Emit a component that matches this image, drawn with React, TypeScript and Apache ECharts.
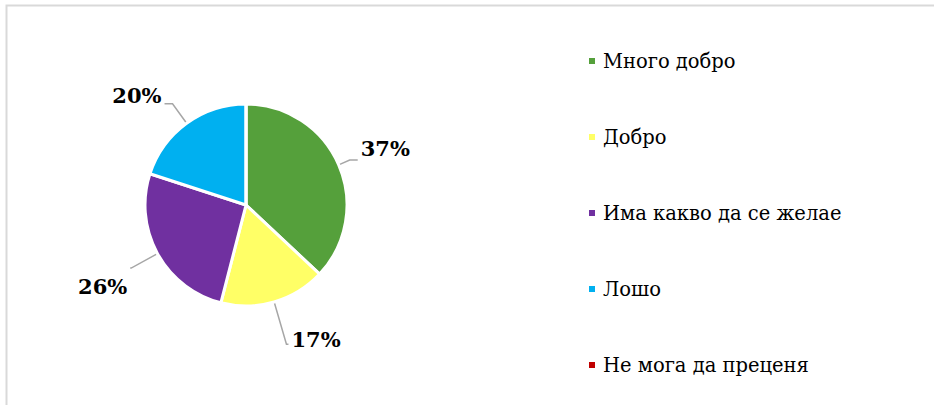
import React, { useEffect, useRef } from "react";
import * as echarts from "echarts";

const categories = ["Много добро", "Добро", "Има какво да се желае", "Лошо", "Не мога да преценя"];
const values = [37, 17, 26, 20, 0];
const colors = ["#55A03B", "#FFFF66", "#7030A0", "#00B0F0", "#C00000"];
// leader line [length, length2] per slice
const lineLengths = [
  [12, 8],
  [44, 2],
  [30, 1],
  [24, 8],
  [10, 10],
];
// label vertical shift relative to leader line end: direction and line height
const shiftDown = [false, false, true, false, false];
const labelLineHeights = [24, 10, 36, 16, 20];

export default function App() {
  const ref = useRef<HTMLDivElement>(null);
  useEffect(() => {
    const chart = echarts.init(ref.current!, null, { renderer: "svg" });
    const font = "DejaVu Serif";
    chart.setOption({
      animation: false,
      backgroundColor: "#ffffff",
      textStyle: { fontFamily: font },
      graphic: [
        {
          type: "rect",
          shape: { x: 6.5, y: 5.5, width: 940, height: 420 },
          style: { fill: "none", stroke: "#D9D9D9", lineWidth: 2 },
          silent: true,
        },
      ],
      legend: {
        orient: "vertical",
        left: 582,
        top: 46,
        icon: "rect",
        itemWidth: 8,
        itemHeight: 8,
        itemGap: 56,
        data: categories,
        textStyle: { fontFamily: font, fontSize: 19.5, color: "#000", lineHeight: 20, padding: [0, 0, 0, 2] },
      },
      series: [
        {
          type: "pie",
          center: [246, 205],
          radius: [0, 101],
          startAngle: 90,
          clockwise: true,
          avoidLabelOverlap: false,
          itemStyle: { borderColor: "#fff", borderWidth: 3 },
          label: {
            show: true,
            position: "outside",
            formatter: (p: any) => {
              if (!p.value) return "";
              const t = p.value + "%";
              return shiftDown[p.dataIndex] ? "\n" + t : t + "\n";
            },
            fontFamily: font,
            fontSize: 21,
            fontWeight: "bold",
            color: "#000",
            distanceToLabelLine: 3,
          },
          labelLine: {
            show: true,
            lineStyle: { color: "#A6A6A6", width: 1.5 },
          },
          data: categories.map((name, i) => ({
            name,
            value: values[i],
            itemStyle: { color: colors[i] },
            label: { show: values[i] !== 0, lineHeight: labelLineHeights[i] },
            labelLine: { show: values[i] !== 0, length: lineLengths[i][0], length2: lineLengths[i][1] },
          })),
        },
      ],
    });
    return () => chart.dispose();
  }, []);
  return (
    <div
      ref={ref}
      style={{ position: "absolute", left: 0, top: 0, width: 934, height: 405 }}
    />
  );
}
